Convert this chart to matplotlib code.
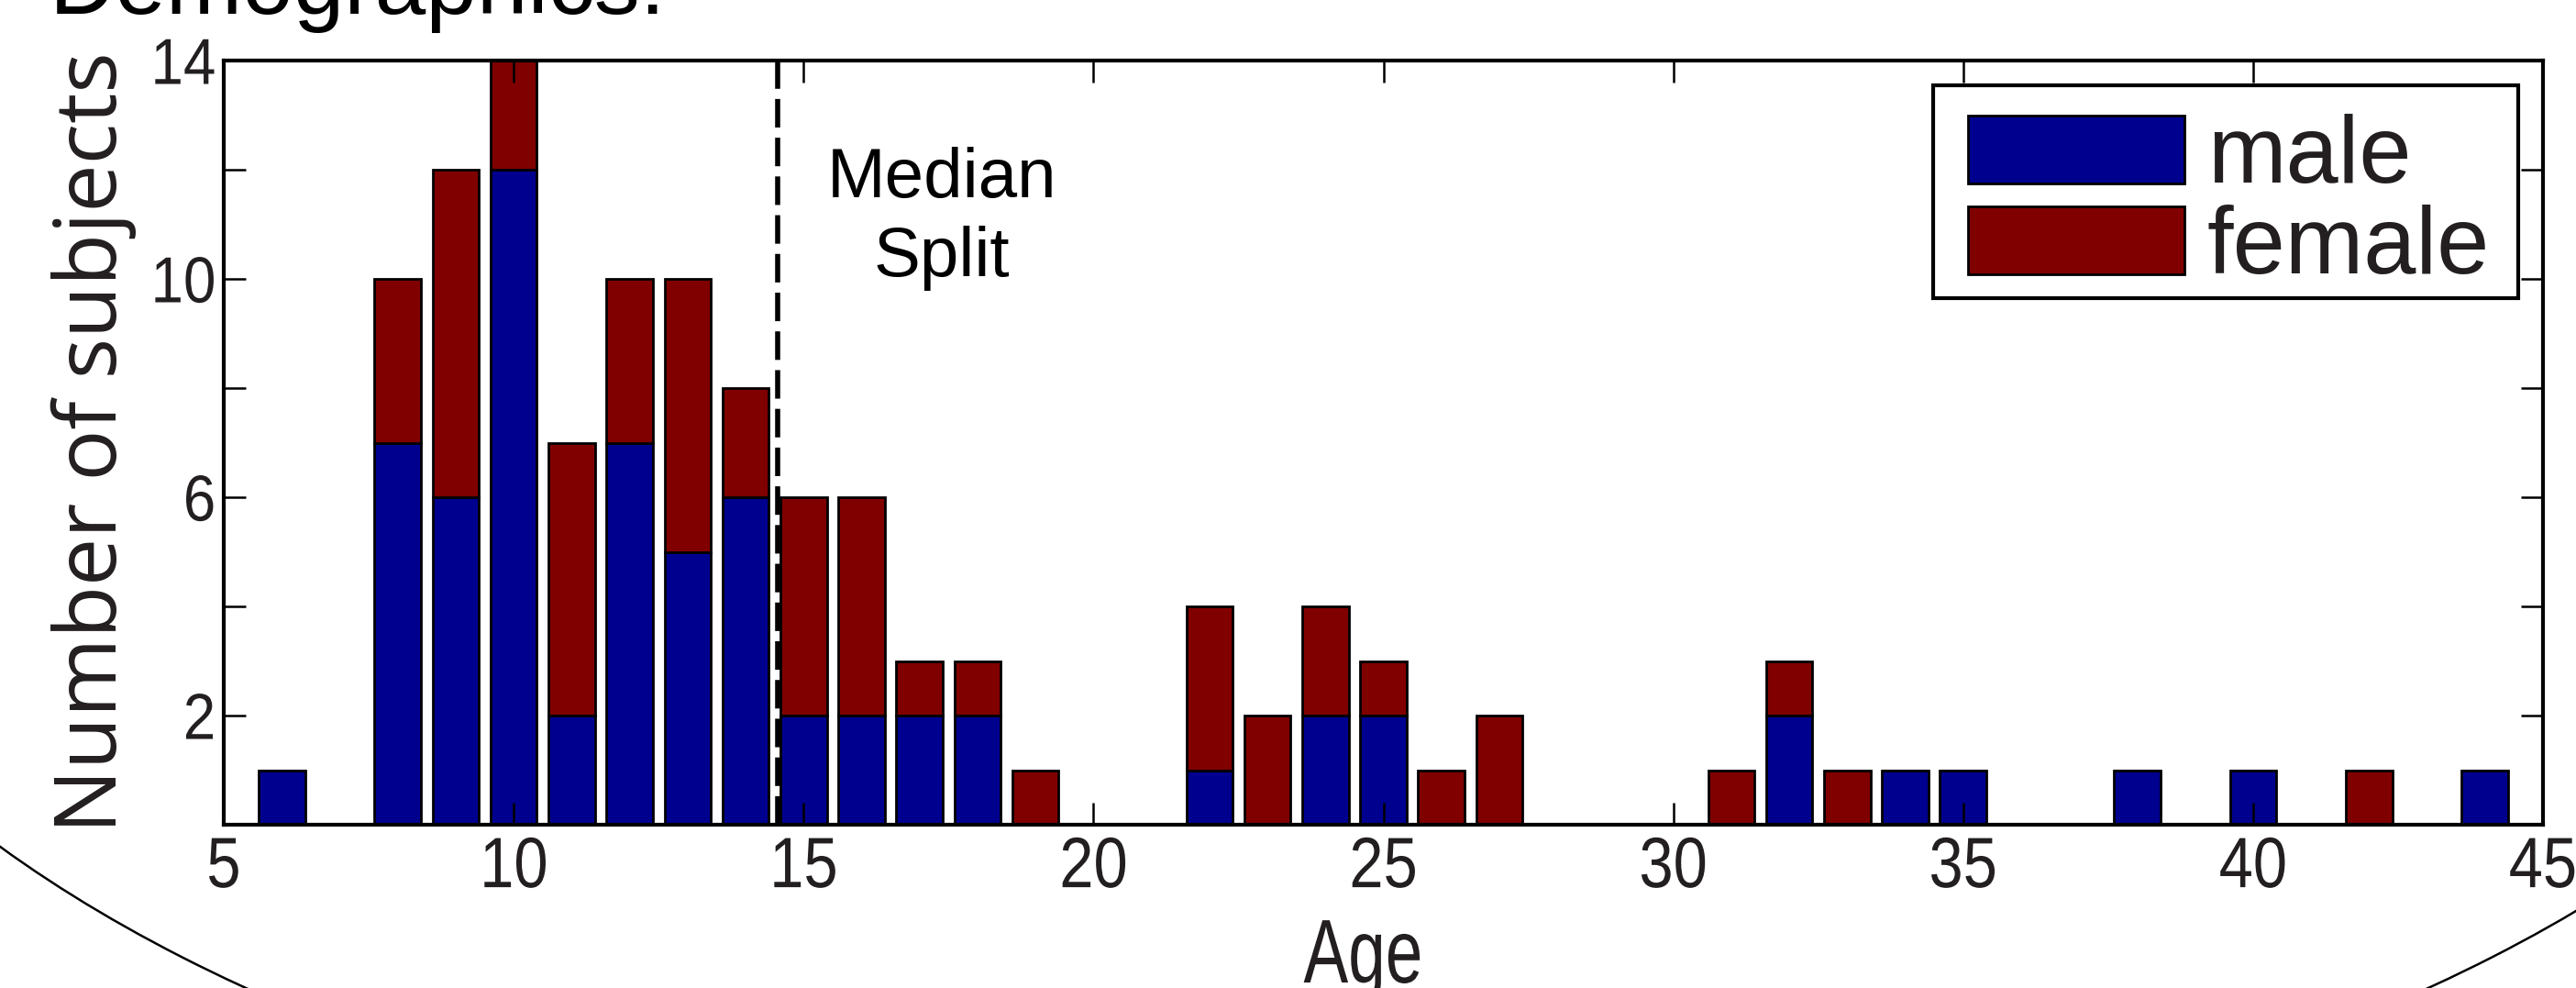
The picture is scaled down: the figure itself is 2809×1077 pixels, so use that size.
import numpy as np
import matplotlib
matplotlib.use('Agg')
import matplotlib.pyplot as plt
from matplotlib.patches import Ellipse, Rectangle
from matplotlib.patheffects import AbstractPathEffect
from matplotlib.transforms import Affine2D

# age histogram, stacked by sex
ages = [6, 8, 9, 10, 11, 12, 13, 14, 15, 16, 17, 18, 19, 22, 23, 24, 25, 26, 27,
        31, 32, 33, 34, 35, 38, 40, 42, 44]
male = [1, 7, 6, 12, 2, 7, 5, 6, 2, 2, 2, 2, 0, 1, 0, 2, 2, 0, 0,
        0, 2, 0, 1, 1, 1, 1, 0, 1]
female = [0, 3, 6, 2, 5, 3, 5, 2, 4, 4, 1, 1, 1, 3, 2, 2, 1, 1, 2,
          1, 1, 1, 0, 0, 0, 0, 1, 0]
median_age = 14.55

x_ticks = [5, 10, 15, 20, 25, 30, 35, 40, 45]
y_ticks = [2, 4, 6, 8, 10, 12, 14]
y_ticklabels = ['2', '', '6', '', '10', '', '14']


class Squeeze(AbstractPathEffect):
    """Draw text narrower (the original figure was stretched vertically)."""

    def __init__(self, sx, anchor='center'):
        super().__init__()
        self.sx = sx
        self.anchor = anchor

    def draw_path(self, renderer, gc, tpath, affine, rgbFace=None):
        ext = tpath.get_extents()
        if self.anchor == 'left':
            cx = 0.0
        elif self.anchor == 'right':
            cx = ext.x1
        else:
            cx = (ext.x0 + ext.x1) / 2
        t = Affine2D().translate(-cx, 0).scale(self.sx, 1).translate(cx, 0) + affine
        renderer.draw_path(gc, tpath, t, rgbFace)


font = 'Liberation Sans'
ink = '#231f20'
blue = '#00008F'
red = '#800000'

W, H = 2809, 1077
fig = plt.figure(figsize=(W / 100, H / 100), dpi=100)
ax = fig.add_axes([244 / W, 1 - 899 / H, (2773 - 244) / W, (899 - 66) / H])

b1 = ax.bar(ages, male, width=0.8, color=blue, edgecolor='black', linewidth=2, label='male')
b2 = ax.bar(ages, female, width=0.8, bottom=male, color=red, edgecolor='black',
            linewidth=2, label='female')

ax.axvline(median_age, color='black', linewidth=4, linestyle=(0, (5.6, 2.0)))
for txt, yv in [('Median', 11.5), ('Split', 10.05)]:
    ax.text(17.38, yv, txt, ha='center', va='baseline', fontsize=55, family=font)

ax.set_xlim(5, 45)
ax.set_ylim(0, 14)
ax.set_xticks(x_ticks)
ax.set_xticklabels([str(t) for t in x_ticks], family=font, fontsize=56, color=ink)
ax.set_yticks(y_ticks)
ax.set_yticklabels(y_ticklabels, family=font, fontsize=51, color=ink)
ax.tick_params(direction='in', top=True, right=True, length=17, width=1.8)
ax.tick_params(axis='x', pad=8)
ax.tick_params(axis='y', pad=6)
for t in ax.get_xticklabels():
    t.set_path_effects([Squeeze(0.86)])
for t in ax.get_yticklabels():
    t.set_path_effects([Squeeze(0.9, 'right')])
for s in ax.spines.values():
    s.set_linewidth(3)

ax.set_xlabel('Age', family=font, fontsize=71, color=ink, path_effects=[Squeeze(0.74)])
ax.xaxis.label.set_va('baseline')
ax.xaxis.set_label_coords(0.4915, (899 - 1071) / 833)
ax.set_ylabel('Number of subjects', family='Open Sans', fontsize=67, color=ink)
ax.yaxis.label.set_va('baseline')
ax.yaxis.set_label_coords((127 - 244) / 2529, 0.5)

# legend contents, with its box drawn separately to the measured size
leg = ax.legend(handles=[b1, b2], loc='upper right', bbox_to_anchor=(0.9893, 0.9676),
                borderaxespad=0, frameon=False,
                prop={'family': font, 'size': 74}, handlelength=2.3,
                handleheight=0.72, handletextpad=0.24, labelspacing=0.02,
                borderpad=0.3)
leg.set_zorder(6)
for t in leg.get_texts():
    t.set_color(ink)
ax.add_patch(Rectangle((0.737, 0.6891), 0.9893 - 0.737, 0.9676 - 0.6891,
                       transform=ax.transAxes, facecolor='white', edgecolor='black',
                       linewidth=3, zorder=5.5, clip_on=False))

fig.text(54 / W, 1 - 15 / H, 'Demographics:', va='baseline', fontsize=72, family=font)

# slide outline ellipse
ell = Ellipse((1458 / W, 1 - 400 / H), 3564 / W, 1819 / H, transform=fig.transFigure,
              fill=False, edgecolor='black', linewidth=1.8, clip_on=False)
fig.patches.append(ell)

fig.savefig('out.png', dpi=100)
